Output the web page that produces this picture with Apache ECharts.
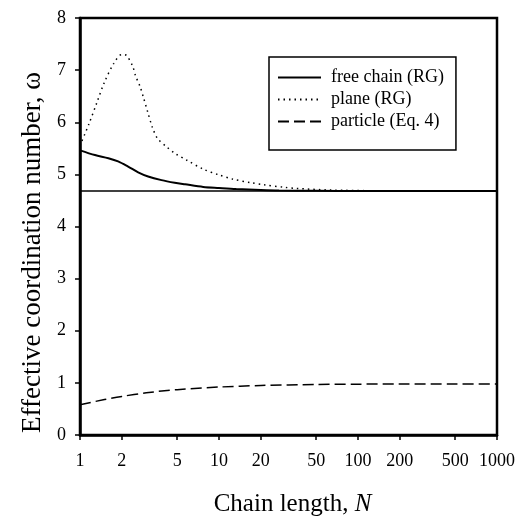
<!DOCTYPE html>
<html>
<head>
<meta charset="utf-8">
<script src="https://cdn.jsdelivr.net/npm/echarts@6/dist/echarts.min.js"></script>
<style>
  html, body { margin: 0; padding: 0; background: #fff; }
  #chart { width: 517px; height: 517px; }
</style>
</head>
<body>
<div id="chart"></div>
<script>
// Chain length N and effective coordination number for each model
const freeChainN = [1, 1.28, 1.6, 1.88, 2.22, 2.62, 3.09, 3.86, 4.8, 5.7, 7.7, 10, 13.3, 20, 27, 50, 100, 1000];
const freeChainW = [5.46, 5.37, 5.31, 5.25, 5.15, 5.04, 4.96, 4.89, 4.84, 4.81, 4.76, 4.74, 4.72, 4.70, 4.69, 4.685, 4.68, 4.68];

const planeN = [1, 1.16, 1.32, 1.49, 1.75, 2.0, 2.16, 2.39, 2.51, 2.70, 2.85, 3.06, 3.31, 3.61, 4.19, 4.9, 5.8, 7.7, 10, 12.5, 17, 21, 30, 36, 63, 140, 300, 1000];
const planeW = [5.55, 5.97, 6.37, 6.75, 7.13, 7.30, 7.28, 7.08, 6.89, 6.69, 6.49, 6.21, 5.91, 5.69, 5.53, 5.39, 5.28, 5.10, 4.99, 4.91, 4.84, 4.80, 4.75, 4.73, 4.70, 4.685, 4.68, 4.68];

const particleN = [1, 1.5, 2, 3, 5, 10, 20, 50, 100, 200, 500, 1000];
const particleW = [0.58, 0.68, 0.74, 0.81, 0.87, 0.92, 0.95, 0.97, 0.975, 0.98, 0.98, 0.98];

// Asymptotic (infinite chain) value
const limitN = [1, 1000];
const limitW = [4.68, 4.68];

const xTickValues = [1, 2, 5, 10, 20, 50, 100, 200, 500, 1000];
const yTickMin = 0, yTickMax = 8, yTickStep = 1;

const seriesNames = ['free chain (RG)', 'plane (RG)', 'particle (Eq. 4)'];

const pairs = (xs, ys) => xs.map((x, i) => [x, ys[i]]);
const serif = 'Liberation Serif, Times New Roman, serif';

const chart = echarts.init(document.getElementById('chart'), null, { renderer: 'canvas' });

chart.setOption({
  animation: false,
  backgroundColor: '#fff',
  grid: {
    left: 80, right: 20, top: 18, bottom: 82,
    outerBoundsMode: 'none', containLabel: false,
    show: true, borderColor: '#000', borderWidth: 2.5, backgroundColor: 'transparent'
  },
  legend: {
    orient: 'vertical',
    left: 269, top: 57,
    data: seriesNames,
    itemWidth: 43, itemHeight: 14, itemGap: 1,
    padding: [10, 12, 18, 8],
    borderColor: '#000', borderWidth: 1.5,
    itemStyle: { opacity: 0 },
    textStyle: { fontFamily: serif, fontSize: 18, color: '#000', lineHeight: 21, padding: [0, 0, 0, 5] }
  },
  xAxis: {
    type: 'log', logBase: 10, min: 1, max: 1000,
    name: 'Chain length, {i|N}',
    nameLocation: 'middle', nameGap: 57,
    nameTextStyle: {
      fontFamily: serif, fontSize: 25, color: '#000', padding: [0, 0, 0, 8],
      rich: { i: { fontFamily: serif, fontSize: 25, fontStyle: 'italic', color: '#000' } }
    },
    axisLine: { show: true, lineStyle: { color: '#000', width: 2.5 } },
    axisTick: { show: true, inside: false, length: 5, customValues: xTickValues, lineStyle: { color: '#000', width: 1.5 } },
    minorTick: { show: false },
    axisLabel: {
      customValues: xTickValues, margin: 17,
      fontFamily: serif, fontSize: 18, color: '#000',
      formatter: v => String(Math.round(v))
    },
    splitLine: { show: false }
  },
  yAxis: {
    type: 'value', min: yTickMin, max: yTickMax, interval: yTickStep,
    name: 'Effective coordination number, \u03c9',
    nameLocation: 'middle', nameGap: 34,
    nameTextStyle: { fontFamily: serif, fontSize: 27, color: '#000', padding: [0, 52, 0, 0] },
    axisLine: { show: true, lineStyle: { color: '#000', width: 2.5 } },
    axisTick: { show: true, inside: false, length: 5, lineStyle: { color: '#000', width: 1.5 } },
    axisLabel: { margin: 14, fontFamily: serif, fontSize: 18, color: '#000' },
    splitLine: { show: false }
  },
  series: [
    {
      name: 'limit', type: 'line', data: pairs(limitN, limitW),
      symbol: 'none', silent: true,
      lineStyle: { color: '#000', width: 1.5, type: 'solid' }
    },
    {
      name: seriesNames[0], type: 'line', data: pairs(freeChainN, freeChainW),
      symbol: 'none', smooth: 0.3,
      lineStyle: { color: '#000', width: 2, type: 'solid' },
      itemStyle: { color: '#000' }
    },
    {
      name: seriesNames[1], type: 'line', data: pairs(planeN, planeW),
      symbol: 'none', smooth: 0.3,
      lineStyle: { color: '#000', width: 1.5, type: [1.5, 4] },
      itemStyle: { color: '#000' }
    },
    {
      name: seriesNames[2], type: 'line', data: pairs(particleN, particleW),
      symbol: 'none', smooth: 0.3,
      lineStyle: { color: '#000', width: 1.5, type: [11, 5] },
      itemStyle: { color: '#000' }
    }
  ]
});
</script>
</body>
</html>
